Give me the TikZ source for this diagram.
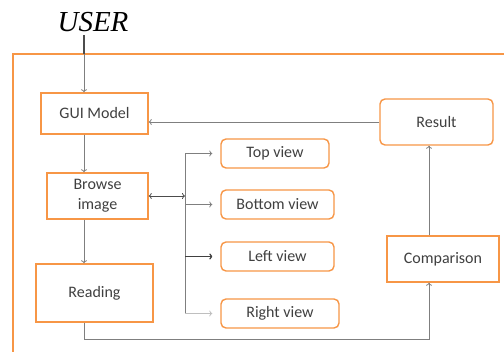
\documentclass[tikz,border=0pt]{standalone}
\usepackage{fontspec}
\setmainfont{Carlito}
\newfontfamily\userfont{Liberation Serif}
\usetikzlibrary{arrows.meta}

\definecolor{frameorange}{HTML}{F79646}
\definecolor{linegray}{HTML}{7F7F7F}

\tikzset{
  box/.style={draw=frameorange, line width=1.4pt, fill=white, align=center,
    text=black!75, font=\fontsize{16}{20}\selectfont, inner sep=2pt},
  rbox/.style={box, rounded corners=5pt},
  arr/.style={draw=linegray, line width=0.8pt, -{To[length=3pt,width=6pt]}},
}

\begin{document}
\begin{tikzpicture}[x=1pt, y=-1pt]
      \useasboundingbox (0,0) rectangle (504,352);

      % Frame
      \draw[frameorange, line width=1.4pt] (13,352) -- (13,54) -- (504,54);

      % Boxes
      \node[box, minimum width=107pt, minimum height=41pt] (gui) at (94.5,113.5) {GUI Model};
      \node[box, minimum width=101pt, minimum height=46pt] (browse) at (97.5,196) {Browse\\image};
      \node[box, minimum width=117pt, minimum height=58pt] (reading) at (94.5,293) {Reading};
      \node[rbox, minimum width=108pt, minimum height=29pt] (top) at (275,153.5) {Top view};
      \node[rbox, minimum width=113pt, minimum height=29pt] (bottom) at (277.5,204.5) {Bottom view};
      \node[rbox, minimum width=113pt, minimum height=29pt] (left) at (277.5,256.5) {Left view};
      \node[rbox, minimum width=118pt, minimum height=29pt] (right) at (280,313.5) {Right view};
      \node[rbox, minimum width=113pt, minimum height=46pt] (result) at (436.5,122) {Result};
      \node[box, minimum width=112pt, minimum height=46pt] (comparison) at (443,259) {Comparison};

      % Labels
      \node[font=\userfont\itshape\fontsize{29}{30}\selectfont] (user) at (93,22) {USER};

      % Helpers
      \coordinate (leftx) at (84,0);
      \coordinate (busx) at (185,0);
      \coordinate (cmpx) at (429,0);
      \coordinate (bottomy) at (0,339);

      % Arrows
      \draw[arr] (user.south -| leftx) -- (leftx |- gui.north);
      \draw[black!70, line width=2pt] (user.south -| leftx) -- (leftx |- 0,54);
      \draw[arr] (result.west) -- (result.west -| gui.east);
      \draw[arr] (gui.south -| leftx) -- (leftx |- browse.north);
      \draw[arr] (browse.south -| leftx) -- (leftx |- reading.north);
      \draw[arr, {To[length=3pt,width=6pt]}-{To[length=3pt,width=6pt]}, draw=black!70]
        (browse.east) -- (browse.east -| busx);
      \draw[draw=linegray, line width=0.8pt] (busx |- top.west) -- (busx |- right.west);
      \draw[arr, shorten >=8pt] (busx |- top.west) -- (top.west);
      \draw[arr, shorten >=8pt] (busx |- bottom.west) -- (bottom.west);
      \draw[arr, shorten >=8pt, draw=black!75, line width=1.2pt] (busx |- left.west) -- (left.west);
      \draw[arr, shorten >=8pt, draw=linegray!50] (busx |- right.west) -- (right.west);
      \draw[arr] (reading.south -| leftx) -- (leftx |- bottomy) -- (cmpx |- bottomy)
        -- (cmpx |- comparison.south);
      \draw[arr] (comparison.north -| cmpx) -- (cmpx |- result.south);
\end{tikzpicture}
\end{document}
